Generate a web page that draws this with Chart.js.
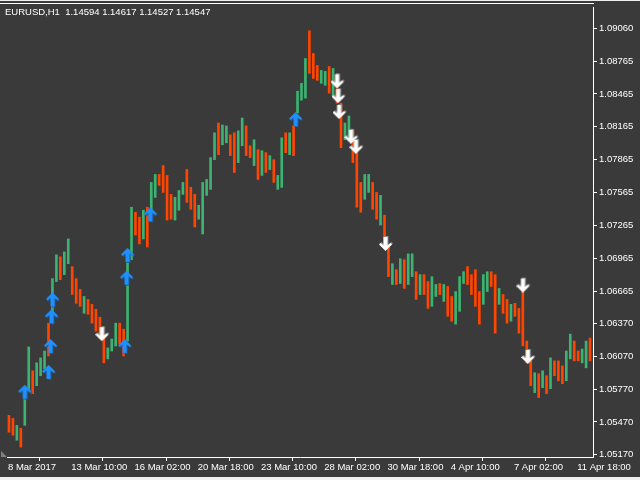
<!DOCTYPE html>
<html>
<head>
<meta charset="utf-8">
<title>EURUSD,H1</title>
<script src="https://cdn.jsdelivr.net/npm/chart.js@4.4.1/dist/chart.umd.min.js"></script>
<style>
    html, body { margin: 0; padding: 0; background: #3a3a3a; }
    canvas { display: block; }
</style>
</head>
<body>
<canvas id="chart" width="640" height="480"></canvas>
<script>
// EURUSD H1 - each candle here groups 4 hourly bars, hour index counted from 8 Mar
const candleHigh = [
    1.05530, 1.05502, 1.05439, 1.05412, 1.05711, 1.06155, 1.05937, 1.06010, 1.06055, 1.06118,
    1.06372, 1.06779, 1.06996, 1.06978, 1.07023, 1.07141, 1.06888, 1.06779, 1.06680, 1.06616,
    1.06589, 1.06544, 1.06499, 1.06426, 1.06272, 1.06146, 1.06227, 1.06372, 1.06372, 1.06317,
    1.06951, 1.07431, 1.07385, 1.07340, 1.07403, 1.07431, 1.07657, 1.07730, 1.07730, 1.07811,
    1.07721, 1.07548, 1.07521, 1.07584, 1.07657, 1.07775, 1.07612, 1.07548, 1.07449, 1.07657,
    1.07684, 1.07884, 1.08110, 1.08200, 1.08182, 1.08173, 1.08092, 1.08110, 1.08128, 1.08245,
    1.08173, 1.07992, 1.08047, 1.07956, 1.07947, 1.07929, 1.07902, 1.07865, 1.07721, 1.08065,
    1.08110, 1.08110, 1.08173, 1.08490, 1.08562, 1.08789, 1.09042, 1.08834, 1.08725, 1.08680,
    1.08671, 1.08716, 1.08698, 1.08653, 1.08381, 1.08200, 1.08264, 1.08137, 1.07974, 1.07657,
    1.07730, 1.07730, 1.07657, 1.07566, 1.07539, 1.07358, 1.07086, 1.06915, 1.06860, 1.06960,
    1.06951, 1.07005, 1.07005, 1.06842, 1.06815, 1.06815, 1.06752, 1.06797, 1.06725, 1.06734,
    1.06725, 1.06707, 1.06616, 1.06661, 1.06797, 1.06842, 1.06888, 1.06815, 1.06860, 1.06661,
    1.06815, 1.06842, 1.06842, 1.06815, 1.06689, 1.06634, 1.06589, 1.06544, 1.06553, 1.06507,
    1.06680, 1.06209, 1.06028, 1.05919, 1.05910, 1.05937, 1.05892, 1.06055, 1.06028, 1.06028,
    1.05982, 1.06118, 1.06272, 1.06209, 1.06118, 1.06136, 1.06209, 1.06236
];
const candleLow = [
    1.05376, 1.05349, 1.05303, 1.05240, 1.05439, 1.05756, 1.05729, 1.05801, 1.05892, 1.05956,
    1.06073, 1.06390, 1.06752, 1.06770, 1.06815, 1.06915, 1.06634, 1.06553, 1.06526, 1.06462,
    1.06453, 1.06372, 1.06299, 1.06236, 1.06010, 1.06046, 1.06118, 1.06164, 1.06182, 1.06073,
    1.06209, 1.06951, 1.07177, 1.07096, 1.07141, 1.07068, 1.07367, 1.07521, 1.07630, 1.07566,
    1.07313, 1.07322, 1.07313, 1.07403, 1.07548, 1.07476, 1.07412, 1.07250, 1.07322, 1.07186,
    1.07539, 1.07594, 1.07865, 1.07911, 1.08001, 1.08019, 1.07902, 1.07748, 1.07838, 1.07992,
    1.07902, 1.07884, 1.07811, 1.07684, 1.07721, 1.07748, 1.07775, 1.07657, 1.07594, 1.07612,
    1.07929, 1.07911, 1.07902, 1.08291, 1.08408, 1.08427, 1.08653, 1.08607, 1.08589, 1.08562,
    1.08544, 1.08472, 1.08445, 1.08381, 1.07974, 1.08047, 1.08083, 1.07838, 1.07431, 1.07385,
    1.07503, 1.07566, 1.07412, 1.07322, 1.07268, 1.07068, 1.06797, 1.06725, 1.06725, 1.06734,
    1.06689, 1.06725, 1.06797, 1.06589, 1.06634, 1.06634, 1.06507, 1.06526, 1.06616, 1.06634,
    1.06571, 1.06435, 1.06390, 1.06363, 1.06480, 1.06734, 1.06725, 1.06634, 1.06526, 1.06363,
    1.06544, 1.06661, 1.06707, 1.06281, 1.06544, 1.06462, 1.06372, 1.06390, 1.06435, 1.06281,
    1.06164, 1.06010, 1.05801, 1.05738, 1.05692, 1.05783, 1.05729, 1.05774, 1.05892, 1.05846,
    1.05819, 1.05846, 1.06046, 1.06028, 1.06028, 1.06010, 1.05964, 1.06028
];
// 1 = bull bar (green), 0 = bear bar (red)
const candleUp = [
    0, 0, 1, 0, 1, 1, 0, 1, 1, 1,
    0, 1, 1, 0, 1, 1, 0, 0, 0, 1,
    0, 0, 0, 0, 0, 1, 1, 1, 0, 0,
    1, 1, 0, 0, 1, 0, 1, 1, 0, 0,
    0, 0, 1, 1, 1, 0, 0, 0, 1, 1,
    1, 1, 1, 0, 1, 1, 0, 0, 1, 1,
    0, 0, 1, 0, 1, 0, 1, 0, 1, 1,
    0, 1, 0, 1, 1, 1, 0, 0, 0, 1,
    1, 0, 1, 0, 0, 1, 1, 0, 0, 0,
    1, 1, 0, 0, 1, 0, 0, 1, 0, 1,
    0, 1, 1, 0, 1, 0, 0, 1, 1, 0,
    1, 0, 0, 1, 1, 1, 0, 0, 0, 0,
    1, 1, 0, 0, 1, 0, 0, 1, 0, 0,
    0, 0, 0, 1, 0, 1, 0, 1, 0, 0,
    0, 1, 1, 0, 0, 1, 1, 0
];

// indicator signals
const buyHour = [18, 42, 44, 45, 46, 119, 121, 122, 145, 292];
const buyPrice = [1.05738, 1.05919, 1.06155, 1.06426, 1.06580, 1.06155, 1.06779, 1.06987, 1.07358, 1.08227];
const sellHour = [96, 334, 335, 336, 348, 353, 383, 522, 527];
const sellPrice = [1.06281, 1.08589, 1.08454, 1.08309, 1.08083, 1.07992, 1.07105, 1.06725, 1.06073];

// axes
const xTickHours = [0, 64, 128, 192, 256, 320, 384, 448, 512, 576];
const xTickLabels = ['8 Mar 2017', '13 Mar 10:00', '16 Mar 02:00', '20 Mar 18:00', '23 Mar 10:00',
    '28 Mar 02:00', '30 Mar 18:00', '4 Apr 10:00', '7 Apr 02:00', '11 Apr 18:00'];
const yTickValues = [1.09060, 1.08765, 1.08465, 1.08165, 1.07865, 1.07565, 1.07265,
    1.06965, 1.06665, 1.06370, 1.06070, 1.05770, 1.05470, 1.05170];

const bullColor = '#3cb371';
const bearColor = '#ff4500';
const axisFont = { family: 'Liberation Sans, Arial, sans-serif', size: 9.5 };

// arrow markers drawn once on small canvases
function makeArrow(fill, shade, pointsDown) {
    const c = document.createElement('canvas');
    c.width = 15;
    c.height = 16;
    const g = c.getContext('2d');
    if (pointsDown) {
        g.translate(0, 16);
        g.scale(1, -1);
    }
    const shape = (dx, dy) => {
        const pts = [[6.5, 0], [13, 6.5], [11.5, 8], [8.5, 5.5], [8.5, 14], [4.5, 14], [4.5, 5.5], [1.5, 8], [0, 6.5]];
        g.beginPath();
        pts.forEach(([px, py], i) => {
            if (i === 0) g.moveTo(px + dx, py + dy);
            else g.lineTo(px + dx, py + dy);
        });
        g.closePath();
    };
    g.fillStyle = shade;
    shape(1, 1);
    g.fill();
    g.fillStyle = fill;
    shape(0, 0);
    g.fill();
    return c;
}
const upArrow = makeArrow('#1e90ff', '#1d5a9a', false);
const downArrow = makeArrow('#ffffff', '#8a8a8a', true);

const bars = candleHigh.map((h, i) => ({ x: i * 4 + 1, y: [candleLow[i], h] }));
const barColors = candleUp.map(u => u ? bullColor : bearColor);
const buyPoints = buyHour.map((h, i) => ({ x: h, y: buyPrice[i] }));
const sellPoints = sellHour.map((h, i) => ({ x: h, y: sellPrice[i] }));

// terminal style frame, title line and corner marker
const terminalFrame = {
    id: 'terminalFrame',
    beforeDraw(chart) {
        const ctx = chart.ctx;
        ctx.save();
        ctx.fillStyle = '#3a3a3a';
        ctx.fillRect(0, 0, chart.width, chart.height);
        ctx.fillStyle = '#f0f0f0';
        ctx.fillRect(0, 0, chart.width, 1);
        ctx.fillRect(0, 477, chart.width, 3);
        ctx.restore();
    },
    afterDraw(chart) {
        const ctx = chart.ctx;
        const area = chart.chartArea;
        ctx.save();
        ctx.fillStyle = '#ffffff';
        ctx.fillRect(0, 3, Math.round(area.right) + 1, 1);
        ctx.font = '9.5px Liberation Sans, Arial, sans-serif';
        ctx.textBaseline = 'middle';
        ctx.fillText('EURUSD,H1  1.14594 1.14617 1.14527 1.14547', 5, 12);
        ctx.fillStyle = '#808080';
        ctx.beginPath();
        ctx.moveTo(1, 451);
        ctx.lineTo(1, 457);
        ctx.lineTo(7, 457);
        ctx.closePath();
        ctx.fill();
        ctx.restore();
    }
};

new Chart(document.getElementById('chart'), {
    type: 'bar',
    data: {
        datasets: [
            { type: 'scatter', data: buyPoints, pointStyle: upArrow, pointRadius: 6, order: 0 },
            { type: 'scatter', data: sellPoints, pointStyle: downArrow, pointRadius: 6, order: 0 },
            {
                type: 'bar',
                data: bars,
                backgroundColor: barColors,
                borderWidth: 0,
                barThickness: 2,
                grouped: false,
                order: 1
            }
        ]
    },
    options: {
        responsive: false,
        animation: false,
        devicePixelRatio: 1,
        layout: { padding: { left: 0, top: 3, right: 0, bottom: 0 } },
        plugins: {
            legend: { display: false },
            tooltip: { enabled: false }
        },
        scales: {
            x: {
                type: 'linear',
                min: -1,
                max: 592,
                offset: false,
                grid: { drawOnChartArea: false, drawTicks: true, tickLength: 4, color: '#ffffff' },
                border: { color: '#ffffff' },
                ticks: {
                    color: '#ffffff',
                    font: axisFont,
                    align: 'start',
                    maxRotation: 0,
                    minRotation: 0,
                    autoSkip: false,
                    padding: 1,
                    callback: (value, index) => xTickLabels[index]
                },
                afterBuildTicks: scale => {
                    scale.ticks = xTickHours.map(v => ({ value: v }));
                },
                afterFit: scale => {
                    scale.height = 23;
                    scale.paddingLeft = 0;
                    scale.paddingRight = 0;
                }
            },
            y: {
                position: 'right',
                min: 1.05150,
                max: 1.09259,
                grid: { drawOnChartArea: false, drawTicks: true, tickLength: 4, color: '#ffffff' },
                border: { color: '#ffffff' },
                ticks: {
                    color: '#ffffff',
                    font: axisFont,
                    padding: 2,
                    callback: value => value.toFixed(5)
                },
                afterBuildTicks: scale => {
                    scale.ticks = yTickValues.map(v => ({ value: v }));
                },
                afterFit: scale => {
                    scale.width = 47;
                    scale.paddingTop = 0;
                    scale.paddingBottom = 0;
                }
            }
        }
    },
    plugins: [terminalFrame]
});
</script>
</body>
</html>
